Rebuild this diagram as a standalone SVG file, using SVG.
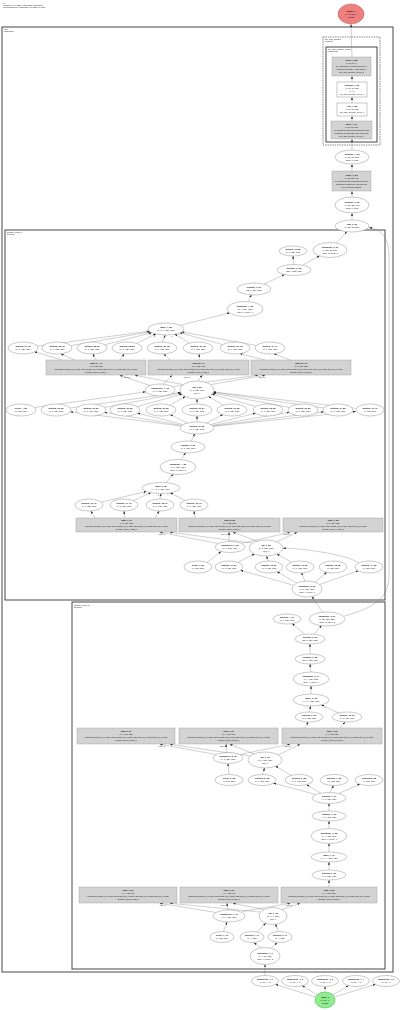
<svg xmlns="http://www.w3.org/2000/svg" width="400" height="1010" viewBox="0 0 400 1010">
<style>
text{font-family:"Liberation Sans",Arial,sans-serif;font-size:2.2px;fill:#111;text-anchor:middle}
.b{font-weight:bold}
.s{text-anchor:start;font-size:2px}
.r{font-size:2px}
.lb{font-size:1.7px;fill:#222}
.n{fill:#fff;stroke:#777;stroke-width:.4}
.gr{fill:#d3d3d3;stroke:#999;stroke-width:.4}
.wr{fill:#fff;stroke:#777;stroke-width:.4}
.cl{fill:none;stroke:#333;stroke-width:.9}
.cd{fill:none;stroke:#444;stroke-width:.6;stroke-dasharray:1.6 .8}
#edges path{stroke:#777;stroke-width:.35;fill:none;marker-end:url(#ah)}
</style>
<defs><marker id="ah" markerUnits="userSpaceOnUse" markerWidth="3" markerHeight="2" refX="2.6" refY="1" orient="auto"><path d="M0,0L3,1L0,2z" fill="#222"/></marker></defs>
<rect width="400" height="1010" fill="#fff"/>
<g id="header">
<text class="s" x="3" y="3.5">G</text>
<text class="s" x="3" y="6">Compute: 0.64 GB/s 4 MB (totals, estimated)</text>
<text class="s" x="3" y="8.3">LSTM(sequence) cumulative: 2.6 MB/s, 14 MiB</text>
</g>
<g id="clusters">
<rect class="cl" x="2" y="27" width="391" height="945"/>
<text class="s" x="4" y="30">root</text><text class="s" x="4" y="32.4">Sequential</text>
<rect class="cd" x="323" y="37" width="57" height="108"/>
<text class="s" x="325" y="40">dec_adp_decoder</text><text class="s" x="325" y="42.4">ModuleT</text>
<rect class="cl" x="326" y="47" width="51" height="95"/>
<text class="s" x="328" y="50">dec_adp_decoder_layers</text><text class="s" x="328" y="52.4">ModuleList</text>
<rect class="cl" x="5" y="230" width="380" height="370"/>
<text class="s" x="7" y="233">decoder_block_1</text><text class="s" x="7" y="235.4">Decoder</text>
<rect class="cl" x="72" y="602" width="313" height="367"/>
<text class="s" x="74" y="605.5">decoder_block_2</text><text class="s" x="74" y="607.9">Decoder</text>
</g>
<g id="edges">
<path d="M352,220L352,213.5"/><path d="M352,197L352,191.5"/><path d="M352,171L352,164.5"/><path d="M352,150L352,139.5"/>
<path d="M352,121L352,116.5"/><path d="M352,103L352,97.5"/><path d="M352,82L352,76.5"/><path d="M352,57L351,24.5"/>
<path d="M336.4,243L346.8,231.7"/><path d="M302.6,265.2L319.4,255.9"/><path d="M294,264.5L293,256.2"/>
<path d="M264.1,284.2L284.4,274.6"/><path d="M248.3,301.6L251.3,294.9"/><path d="M180.3,325.4L229.6,312.9"/>
<path d="M37.2,346.1L149.3,331.2"/><path d="M70.8,345.6L150.1,331.8"/><path d="M104.6,344.8L151.7,332.7"/><path d="M136.5,343.4L155.8,334"/>
<path d="M162.3,342L165.2,335.2"/><path d="M189.6,343L174.8,334.2"/><path d="M222.6,344.6L179.9,332.8"/><path d="M256.4,345.5L181.8,331.9"/>
<path d="M62,360L34.6,351.8"/><path d="M75,360L61,353.8"/><path d="M96,360L93,354.2"/><path d="M120,360L124,354.2"/>
<path d="M170,360L164,354.2"/><path d="M200,360L199,354.2"/><path d="M265,360L240,353.6"/><path d="M290,360L274,353.8"/>
<path d="M150,385.5L120,375.3"/><path d="M163,384.2L172,375.3"/><path d="M173,386.5L258,375.3"/>
<path d="M183,384.5L135,375.3"/><path d="M198,381L202,375.3"/><path d="M211,384.5L265,375.3"/>
<path d="M35,407.5L145.5,391.8"/>
<path d="M70.1,408L180.6,392.3"/><path d="M104.6,407.4L181,393"/><path d="M137.3,406.6L182,394.2"/><path d="M169.8,405.1L185.3,396.5"/>
<path d="M197,404L197,399.2"/><path d="M223.4,405.1L208.6,396.6"/><path d="M255.7,406.5L212,394.2"/><path d="M289.4,407.4L213,393"/>
<path d="M323.9,408L213.4,392.3"/><path d="M355.6,408.3L213.6,391.9"/>
<path d="M181,426L70.3,411.8"/><path d="M181.7,425.4L104.8,412.3"/><path d="M183.1,424.5L137.7,413.2"/><path d="M187.2,423.1L170.4,414.7"/>
<path d="M197,422L197,416.2"/><path d="M206.6,423L222.8,414.7"/><path d="M210.8,424.5L255.4,413.2"/><path d="M212.3,425.4L289.2,412.3"/>
<path d="M212.9,426L323.8,411.8"/><path d="M213.3,426.3L355.5,411.5"/>
<path d="M191,441.3L194.8,433.8"/><path d="M181,459.7L185.5,452.8"/><path d="M166,483L173,474.3"/>
<path d="M101.3,502.1L146.3,491.5"/><path d="M133.5,500.6L150.9,492.6"/><path d="M160,499L161,493.7"/><path d="M185,500.4L170.3,492.8"/>
<path d="M95,518L91,511.3"/><path d="M125,518L124,511.3"/><path d="M155,518L159,511.3"/><path d="M195,518L194,511.3"/>
<path d="M218,543.5L160,532.3"/><path d="M229,541.5L229,532.3"/><path d="M241,543.5L290,532.3"/>
<path d="M252,543L170,532.3"/><path d="M258,541.5L233,532.3"/><path d="M277,541.8L297,532.3"/>
<path d="M207,562.4L221,551.6"/><path d="M238,562.4L254.5,553.9"/><path d="M268.5,561L266.5,556.2"/><path d="M291.5,562.2L277,554.1"/>
<path d="M358,562.5C345,554 300,548 283.2,548.3"/>
<path d="M293.7,585.3L240.7,570.3"/><path d="M296.9,583.1L277.3,571.8"/><path d="M305,581.2L301.6,572.8"/><path d="M315,582.2L326.7,572.3"/><path d="M319.5,584.6L358.2,570.8"/>
<path d="M322.5,612.2L312,596.5"/>
<path d="M344.5,616C372,608 389,600 389,575L389,255C389,238 382,230 369.3,227.6"/>
<path d="M304.6,634.3L292.3,623.6"/><path d="M314.1,634.2L321.4,625.6"/><path d="M310,654L310,644.2"/><path d="M311,672L310,664.2"/>
<path d="M311,694L311,686.2"/><path d="M309.5,712L310.5,706.2"/><path d="M338.4,712.9L321.4,704.9"/>
<path d="M305,728L308,722.2"/><path d="M340,728L345,722.2"/>
<path d="M216,754.5L160,744.3"/><path d="M227,752.5L226,744.3"/><path d="M240,754.5L290,744.3"/>
<path d="M250,756L170,744.3"/><path d="M254,754L230,744.3"/><path d="M278,755L300,744.3"/>
<path d="M229,774.5L228,763.7"/><path d="M262.5,774.5L264.5,768.2"/><path d="M291.2,775.4L275.6,766.2"/>
<path d="M315.9,794.5L273.5,783.1"/><path d="M320.9,793.2L306.7,784.6"/><path d="M330,792.5L333.5,785.7"/><path d="M338.9,793.5L359.8,784.1"/>
<path d="M329,811L329,803.7"/><path d="M329,828.5L329,821.2"/><path d="M329,852L329,843.7"/><path d="M329,870L329,862.2"/><path d="M329,887L329,880.2"/>
<path d="M216,912.5L160,903.3"/><path d="M228,910L227,903.3"/><path d="M242,911.5L290,903.3"/>
<path d="M260,912L170,903.3"/><path d="M264,909.5L233,903.3"/><path d="M282,909.5L300,903.3"/>
<path d="M223.5,931.5L227,922.2"/><path d="M257,932L265.7,923.3"/><path d="M278.5,931.7L275.5,924.2"/>
<path d="M261,948L254,942.7"/><path d="M271,948.5L277,942.7"/><path d="M265,975.5L265,964.7"/>
<path d="M315.7,997.1L275.7,984.4"/><path d="M317.1,995L302.3,985.6"/><path d="M325,992L325,986.7"/><path d="M332.9,995.1L348.5,985.6"/><path d="M334.3,997.1L375.3,984.3"/>
</g>
<g id="edge-labels">
<text class="lb" x="146" y="330.6">0</text><text class="lb" x="147.6" y="333.2">1</text><text class="lb" x="150" y="335">2</text><text class="lb" x="154.5" y="336.8">3</text>
<text class="lb" x="163" y="337.6">4</text><text class="lb" x="172" y="336.8">5</text><text class="lb" x="179" y="335.4">6</text><text class="lb" x="184" y="334">7</text>
<text class="lb" x="127" y="377.6">input, hx</text><text class="lb" x="187" y="377.6">input, hx</text><text class="lb" x="262" y="377.6">input, hx</text>
<text class="lb" x="144" y="494">0</text><text class="lb" x="149.5" y="495.4">1</text><text class="lb" x="158.5" y="496">2</text><text class="lb" x="168" y="495.4">3</text>
<text class="lb" x="162" y="534.6">input, hx</text><text class="lb" x="224" y="534.6">input, hx</text><text class="lb" x="287" y="534.6">input, hx</text>
<text class="lb" x="307" y="707.6">0</text><text class="lb" x="325" y="707.6">1</text>
<text class="lb" x="162" y="746.6">input, hx</text><text class="lb" x="223" y="746.6">input, hx</text><text class="lb" x="288" y="746.6">input, hx</text>
<text class="lb" x="163" y="905.6">input, hx</text><text class="lb" x="224" y="905.6">input, hx</text><text class="lb" x="289" y="905.6">input, hx</text>
</g>
<g id="output_1"><ellipse cx="351" cy="14" rx="13" ry="10" fill="#f08080" stroke="#c05050" stroke-width=".5"/>
<text class="b" x="351" y="11.8">output_1</text><text x="351" y="14.8">(1, 12, 32, 4)</text><text x="351" y="17.8">float32</text></g>
<g id="linear_2_85"><rect class="gr" x="332" y="57" width="39" height="19"/>
<text class="b" x="351.5" y="61.3">linear_2_85</text><text class="r" x="351.5" y="64.3">(1, 32, 12, 4)</text><text class="r" x="351.5" y="67.3">ac_Parameter(4) bias:Parameter(4)</text><text class="r" x="351.5" y="70.3">parameter weight:(4, 128) bias:(4)</text><text class="r" x="351.5" y="73.3">dec_adp_decoder_layers_2</text></g>
<g id="dropout_1_56"><rect class="wr" x="337" y="82" width="30" height="15"/>
<text class="b" x="352" y="85.8">dropout_1_56</text><text class="r" x="352" y="88.8">(1, 32, 12, 128)</text><text class="r" x="352" y="91.8">p=0.1</text><text class="r" x="352" y="94.8">dec_adp_decoder_layers_1</text></g>
<g id="relu_1_55"><rect class="wr" x="337" y="103" width="30" height="13"/>
<text class="b" x="352" y="107.3">relu_1_55</text><text class="r" x="352" y="110.3">(1, 32, 12, 128)</text><text class="r" x="352" y="113.3">dec_adp_decoder_layers_1</text></g>
<g id="linear_1_54"><rect class="gr" x="331" y="121" width="41" height="18"/>
<text class="b" x="351.5" y="124.8">linear_1_54</text><text class="r" x="351.5" y="127.8">(1, 32, 12, 128)</text><text class="r" x="351.5" y="130.8">ac_Parameter(128) bias:Parameter(128)</text><text class="r" x="351.5" y="133.8">parameter weight:(128, 256) bias:(128)</text><text class="r" x="351.5" y="136.8">dec_adp_decoder_layers_0</text></g>
<g id="permute_1_53"><ellipse class="n" cx="352" cy="157" rx="17" ry="7"/>
<text class="b" x="352" y="154.8">permute_1_53</text><text x="352" y="157.8">(1, 32, 12, 256)</text><text x="352" y="160.8">dims=0,1,3,2</text></g>
<g id="linear_0_52"><rect class="gr" x="332" y="171" width="39" height="20"/>
<text class="b" x="351.5" y="175.8">linear_0_52</text><text class="r" x="351.5" y="178.8">(1, 32, 256, 12)</text><text class="r" x="351.5" y="181.8">ac_Parameter(12) bias:Parameter(12)</text><text class="r" x="351.5" y="184.8">parameter weight:(12, 12) bias:(12)</text><text class="r" x="351.5" y="187.8">dec_temporal_adapter</text></g>
<g id="permute_0_51"><ellipse class="n" cx="352" cy="205" rx="17" ry="8"/>
<text class="b" x="352" y="202.8">permute_0_51</text><text x="352" y="205.8">(1, 32, 256, 12)</text><text x="352" y="208.8">dims=0,1,3,2</text></g>
<g id="add_0_50"><ellipse class="n" cx="352" cy="226" rx="17" ry="6"/>
<text class="b" x="352" y="225.3">add_0_50</text><text x="352" y="228.3">(1, 32, 12, 256)</text></g>
<g id="transpose_2_37"><ellipse class="n" cx="330" cy="250" rx="17" ry="7.5"/>
<text class="b" x="330" y="247.8">transpose_2_37</text><text x="330" y="250.8">(1, 32, 12, 256)</text><text x="330" y="253.8">dim0=2, dim1=3</text></g>
<g id="getitem_12_80"><ellipse class="n" cx="293" cy="251" rx="14" ry="5"/>
<text class="b" x="293" y="250.3">getitem_12_80</text><text x="293" y="253.3">(1, 1, 128, 128)</text></g>
<g id="getitem_11_80"><ellipse class="n" cx="294" cy="270" rx="17" ry="5.5"/>
<text class="b" x="294" y="269.3">getitem_11_80</text><text x="294" y="272.3">(32, 1, 256, 128)</text></g>
<g id="reshape_3_84"><ellipse class="n" cx="254" cy="289" rx="17" ry="6"/>
<text class="b" x="254" y="288.3">reshape_3_84</text><text x="254" y="291.3">(32, 1, 256, 128)</text></g>
<g id="transpose_7_80"><ellipse class="n" cx="245" cy="309" rx="18" ry="7.5"/>
<text class="b" x="245" y="306.8">transpose_7_80</text><text x="245" y="309.8">(8, 4, 256, 128)</text><text x="245" y="312.8">dim0=0, dim1=1</text></g>
<g id="stack_1_80"><ellipse class="n" cx="166" cy="329" rx="18" ry="6"/>
<text class="b" x="166" y="328.3">stack_1_80</text><text x="166" y="331.3">(8, 1, 1, 128, 128)</text></g>
<g id="getitem_37_78"><ellipse class="n" cx="23" cy="348" rx="15" ry="6"/><text class="b" x="23" y="347.3">getitem_37_78</text><text x="23" y="350.3">(1, 1, 128, 128)</text></g>
<g id="getitem_38_78"><ellipse class="n" cx="57" cy="348" rx="15" ry="6"/><text class="b" x="57" y="347.3">getitem_38_78</text><text x="57" y="350.3">(1, 1, 128, 128)</text></g>
<g id="getitem_38_80"><ellipse class="n" cx="92" cy="348" rx="15" ry="6"/><text class="b" x="92" y="347.3">getitem_38_80</text><text x="92" y="350.3">(1, 1, 128, 128)</text></g>
<g id="getitem_38_82"><ellipse class="n" cx="127" cy="348" rx="15" ry="6"/><text class="b" x="127" y="347.3">getitem_38_82</text><text x="127" y="350.3">(1, 1, 128, 128)</text></g>
<g id="getitem_35_78"><ellipse class="n" cx="162" cy="348" rx="15" ry="6"/><text class="b" x="162" y="347.3">getitem_35_78</text><text x="162" y="350.3">(1, 1, 128, 128)</text></g>
<g id="getitem_36_78"><ellipse class="n" cx="198" cy="348" rx="15" ry="6"/><text class="b" x="198" y="347.3">getitem_36_78</text><text x="198" y="350.3">(1, 1, 128, 128)</text></g>
<g id="getitem_30_78"><ellipse class="n" cx="235" cy="348" rx="15" ry="6"/><text class="b" x="235" y="347.3">getitem_30_78</text><text x="235" y="350.3">(1, 1, 128, 128)</text></g>
<g id="getitem_34_77"><ellipse class="n" cx="270" cy="348" rx="15" ry="6"/><text class="b" x="270" y="347.3">getitem_34_77</text><text x="270" y="350.3">(1, 1, 128, 128)</text></g>
<g id="lstm_24_71"><rect class="gr" x="46" y="360" width="100" height="15"/>
<text class="b" x="96" y="363.8">lstm_24_71</text><text class="r" x="96" y="366.8">(1, 8, 128, 128)</text><text class="r" x="96" y="369.8">parameter weight_ih_l0:(512, 128) weight_hh_l0:(512, 128) bias_ih_l0:(512) bias_hh_l0:(512)</text><text class="r" x="96" y="372.8">decoder_block_1.lstm_0</text></g>
<g id="lstm_25_71"><rect class="gr" x="148" y="360" width="101" height="15"/>
<text class="b" x="198.5" y="363.8">lstm_25_71</text><text class="r" x="198.5" y="366.8">(1, 8, 128, 128)</text><text class="r" x="198.5" y="369.8">parameter weight_ih_l0:(512, 128) weight_hh_l0:(512, 128) bias_ih_l0:(512) bias_hh_l0:(512)</text><text class="r" x="198.5" y="372.8">decoder_block_1.lstm_1</text></g>
<g id="lstm_22_73"><rect class="gr" x="251" y="360" width="100" height="15"/>
<text class="b" x="301" y="363.8">lstm_22_73</text><text class="r" x="301" y="366.8">(1, 8, 128, 128)</text><text class="r" x="301" y="369.8">parameter weight_ih_l0:(512, 128) weight_hh_l0:(512, 128) bias_ih_l0:(512) bias_hh_l0:(512)</text><text class="r" x="301" y="372.8">decoder_block_1.lstm_2</text></g>
<g id="unsqueeze_4_78"><ellipse class="n" cx="160" cy="390" rx="15" ry="6"/><text class="b" x="160" y="389.3">unsqueeze_4_78</text><text x="160" y="392.3">(1, 1, 128, 128)</text></g>
<g id="cat_5_80"><ellipse class="n" cx="197" cy="390" rx="17" ry="9"/><text class="b" x="197" y="387.8">cat_5_80</text><text x="197" y="390.8">(8, 1, 128, 128)</text><text x="197" y="393.8">dim=0</text></g>
<g id="zeros_4_80"><ellipse class="n" cx="21" cy="410" rx="15" ry="6"/><text class="b" x="21" y="409.3">zeros_4_80</text><text x="21" y="412.3">(1, 128, 128)</text></g>
<g id="getitem_20_80"><ellipse class="n" cx="56" cy="410" rx="15" ry="6"/><text class="b" x="56" y="409.3">getitem_20_80</text><text x="56" y="412.3">(1, 1, 128, 128)</text></g>
<g id="getitem_20_81"><ellipse class="n" cx="91" cy="410" rx="15" ry="6"/><text class="b" x="91" y="409.3">getitem_20_81</text><text x="91" y="412.3">(1, 1, 128, 128)</text></g>
<g id="getitem_20_82"><ellipse class="n" cx="125" cy="410" rx="15" ry="6"/><text class="b" x="125" y="409.3">getitem_20_82</text><text x="125" y="412.3">(1, 1, 128, 128)</text></g>
<g id="getitem_20_83"><ellipse class="n" cx="161" cy="410" rx="15" ry="6"/><text class="b" x="161" y="409.3">getitem_20_83</text><text x="161" y="412.3">(1, 1, 128, 128)</text></g>
<g id="getitem_20_84"><ellipse class="n" cx="197" cy="410" rx="15" ry="6"/><text class="b" x="197" y="409.3">getitem_20_84</text><text x="197" y="412.3">(1, 1, 128, 128)</text></g>
<g id="getitem_21_80"><ellipse class="n" cx="232" cy="410" rx="15" ry="6"/><text class="b" x="232" y="409.3">getitem_21_80</text><text x="232" y="412.3">(1, 1, 128, 128)</text></g>
<g id="getitem_22_80"><ellipse class="n" cx="268" cy="410" rx="15" ry="6"/><text class="b" x="268" y="409.3">getitem_22_80</text><text x="268" y="412.3">(1, 1, 128, 128)</text></g>
<g id="getitem_23_80"><ellipse class="n" cx="303" cy="410" rx="15" ry="6"/><text class="b" x="303" y="409.3">getitem_23_80</text><text x="303" y="412.3">(1, 1, 128, 128)</text></g>
<g id="getitem_24_80"><ellipse class="n" cx="338" cy="410" rx="15" ry="6"/><text class="b" x="338" y="409.3">getitem_24_80</text><text x="338" y="412.3">(1, 1, 128, 128)</text></g>
<g id="getitem_19_79"><ellipse class="n" cx="370" cy="410" rx="14" ry="6"/><text class="b" x="370" y="409.3">getitem_19_79</text><text x="370" y="412.3">(1, 128, 128)</text></g>
<g id="getitem_31_80"><ellipse class="n" cx="197" cy="428" rx="17" ry="6"/><text class="b" x="197" y="427.3">getitem_31_80</text><text x="197" y="430.3">(8, 1, 128, 128)</text></g>
<g id="reshape_3_80"><ellipse class="n" cx="188" cy="447" rx="17" ry="6"/><text class="b" x="188" y="446.3">reshape_3_80</text><text x="188" y="449.3">(8, 1, 128, 128)</text></g>
<g id="transpose_4_80"><ellipse class="n" cx="178" cy="467" rx="18" ry="7.5"/><text class="b" x="178" y="464.8">transpose_4_80</text><text x="178" y="467.8">(8, 1, 256, 128)</text><text x="178" y="470.8">dim0=1, dim1=2</text></g>
<g id="stack_2_80"><ellipse class="n" cx="161" cy="488" rx="19" ry="5.5"/><text class="b" x="161" y="487.3">stack_2_80</text><text x="161" y="490.3">(4, 8, 1, 128, 128)</text></g>
<g id="getitem_16_79"><ellipse class="n" cx="89" cy="505" rx="14" ry="6"/><text class="b" x="89" y="504.3">getitem_16_79</text><text x="89" y="507.3">(1, 1, 128, 128)</text></g>
<g id="getitem_17_79"><ellipse class="n" cx="124" cy="505" rx="14" ry="6"/><text class="b" x="124" y="504.3">getitem_17_79</text><text x="124" y="507.3">(1, 1, 128, 128)</text></g>
<g id="getitem_18_79"><ellipse class="n" cx="160" cy="505" rx="14" ry="6"/><text class="b" x="160" y="504.3">getitem_18_79</text><text x="160" y="507.3">(1, 1, 128, 128)</text></g>
<g id="getitem_15_79"><ellipse class="n" cx="194" cy="505" rx="14" ry="6"/><text class="b" x="194" y="504.3">getitem_15_79</text><text x="194" y="507.3">(1, 1, 128, 128)</text></g>
<g id="lstm_7_37"><rect class="gr" x="76" y="518" width="101" height="14"/>
<text class="b" x="126.5" y="521.3">lstm_7_37</text><text class="r" x="126.5" y="524.3">(1, 8, 128, 128)</text><text class="r" x="126.5" y="527.3">parameter weight_ih_l0:(512, 128) weight_hh_l0:(512, 128) bias_ih_l0:(512) bias_hh_l0:(512)</text><text class="r" x="126.5" y="530.3">decoder_block_1.lstm_0</text></g>
<g id="lstm_8_38"><rect class="gr" x="179" y="518" width="101" height="14"/>
<text class="b" x="229.5" y="521.3">lstm_8_38</text><text class="r" x="229.5" y="524.3">(1, 8, 128, 128)</text><text class="r" x="229.5" y="527.3">parameter weight_ih_l0:(512, 128) weight_hh_l0:(512, 128) bias_ih_l0:(512) bias_hh_l0:(512)</text><text class="r" x="229.5" y="530.3">decoder_block_1.lstm_1</text></g>
<g id="lstm_9_38"><rect class="gr" x="283" y="518" width="100" height="14"/>
<text class="b" x="333" y="521.3">lstm_9_38</text><text class="r" x="333" y="524.3">(1, 8, 128, 128)</text><text class="r" x="333" y="527.3">parameter weight_ih_l0:(512, 128) weight_hh_l0:(512, 128) bias_ih_l0:(512)</text><text class="r" x="333" y="530.3">decoder_block_1.lstm_2</text></g>
<g id="unsqueeze_1_80"><ellipse class="n" cx="230" cy="547" rx="15" ry="5.5"/><text class="b" x="230" y="546.3">unsqueeze_1_80</text><text x="230" y="549.3">(1, 1, 128, 128)</text></g>
<g id="cat_1_80"><ellipse class="n" cx="266" cy="548" rx="17" ry="8"/><text class="b" x="266" y="545.8">cat_1_80</text><text x="266" y="548.8">(2, 1, 128, 128)</text><text x="266" y="551.8">dim=0</text></g>
<g id="zeros_1_80"><ellipse class="n" cx="198" cy="567" rx="14" ry="6"/><text class="b" x="198" y="566.3">zeros_1_80</text><text x="198" y="569.3">(1, 128, 128)</text></g>
<g id="getitem_17_81"><ellipse class="n" cx="229" cy="567" rx="14" ry="6"/><text class="b" x="229" y="566.3">getitem_17_81</text><text x="229" y="569.3">(1, 1, 128, 128)</text></g>
<g id="getitem_15_81"><ellipse class="n" cx="269" cy="567" rx="14" ry="6"/><text class="b" x="269" y="566.3">getitem_15_81</text><text x="269" y="569.3">(1, 1, 128, 128)</text></g>
<g id="getitem_16_81"><ellipse class="n" cx="300" cy="567" rx="14" ry="6"/><text class="b" x="300" y="566.3">getitem_16_81</text><text x="300" y="569.3">(1, 1, 128, 128)</text></g>
<g id="getitem_18_80"><ellipse class="n" cx="333" cy="567" rx="14" ry="6"/><text class="b" x="333" y="566.3">getitem_18_80</text><text x="333" y="569.3">(1, 128, 128)</text></g>
<g id="getitem_14_80"><ellipse class="n" cx="369" cy="567" rx="14" ry="6"/><text class="b" x="369" y="566.3">getitem_14_80</text><text x="369" y="569.3">(1, 128, 128)</text></g>
<g id="transpose_5_80"><ellipse class="n" cx="307" cy="589" rx="15" ry="8"/><text class="b" x="307" y="586.8">transpose_5_80</text><text x="307" y="589.8">(8, 1, 128, 128)</text><text x="307" y="592.8">dim0=0, dim1=1</text></g>
<g id="transpose_3_37"><ellipse class="n" cx="327" cy="619" rx="18" ry="7"/><text class="b" x="327" y="616.8">transpose_3_37</text><text x="327" y="619.8">(1, 32, 128, 128)</text><text x="327" y="622.8">dim0=2, dim1=3</text></g>
<g id="getitem_4_37"><ellipse class="n" cx="287" cy="619" rx="14" ry="5"/><text class="b" x="287" y="618.3">getitem_4_37</text><text x="287" y="621.3">(1, 1, 128, 128)</text></g>
<g id="getitem_3_36"><ellipse class="n" cx="310" cy="639" rx="15" ry="5"/><text class="b" x="310" y="638.3">getitem_3_36</text><text x="310" y="641.3">(32, 1, 128, 128)</text></g>
<g id="reshape_2_35"><ellipse class="n" cx="310" cy="659" rx="15" ry="5"/><text class="b" x="310" y="658.3">reshape_2_35</text><text x="310" y="661.3">(32, 1, 128, 128)</text></g>
<g id="transpose_2_34"><ellipse class="n" cx="311" cy="679" rx="18" ry="7"/><text class="b" x="311" y="676.8">transpose_2_34</text><text x="311" y="679.8">(8, 4, 128, 128)</text><text x="311" y="682.8">dim0=0, dim1=1</text></g>
<g id="stack_2_33"><ellipse class="n" cx="311" cy="700" rx="18" ry="6"/><text class="b" x="311" y="699.3">stack_2_33</text><text x="311" y="702.3">(4, 8, 1, 128, 128)</text></g>
<g id="getitem_9_32"><ellipse class="n" cx="309" cy="717" rx="14" ry="5"/><text class="b" x="309" y="716.3">getitem_9_32</text><text x="309" y="719.3">(1, 1, 128, 128)</text></g>
<g id="getitem_10_32"><ellipse class="n" cx="347" cy="717" rx="15" ry="5"/><text class="b" x="347" y="716.3">getitem_10_32</text><text x="347" y="719.3">(1, 1, 128, 128)</text></g>
<g id="lstm_5_30"><rect class="gr" x="77" y="728" width="98" height="16"/>
<text class="b" x="126" y="732.3">lstm_5_30</text><text class="r" x="126" y="735.3">(1, 1, 128, 128)</text><text class="r" x="126" y="738.3">parameter weight_ih_l0:(512, 128) weight_hh_l0:(512, 128) bias_ih_l0:(512) bias_hh_l0:(512)</text><text class="r" x="126" y="741.3">decoder_block_2.lstm_0</text></g>
<g id="lstm_6_31"><rect class="gr" x="179" y="728" width="99" height="16"/>
<text class="b" x="228.5" y="732.3">lstm_6_31</text><text class="r" x="228.5" y="735.3">(1, 1, 128, 128)</text><text class="r" x="228.5" y="738.3">parameter weight_ih_l0:(512, 128) weight_hh_l0:(512, 128) bias_ih_l0:(512) bias_hh_l0:(512)</text><text class="r" x="228.5" y="741.3">decoder_block_2.lstm_1</text></g>
<g id="lstm_7_32"><rect class="gr" x="282" y="728" width="100" height="16"/>
<text class="b" x="332" y="732.3">lstm_7_32</text><text class="r" x="332" y="735.3">(1, 1, 128, 128)</text><text class="r" x="332" y="738.3">parameter weight_ih_l0:(512, 128) weight_hh_l0:(512, 128) bias_ih_l0:(512) bias_hh_l0:(512)</text><text class="r" x="332" y="741.3">decoder_block_2.lstm_2</text></g>
<g id="unsqueeze_2_29"><ellipse class="n" cx="228" cy="758" rx="15" ry="5.5"/><text class="b" x="228" y="757.3">unsqueeze_2_29</text><text x="228" y="760.3">(1, 1, 128, 128)</text></g>
<g id="cat_2_29"><ellipse class="n" cx="265" cy="760" rx="17" ry="8"/><text class="b" x="265" y="757.8">cat_2_29</text><text x="265" y="760.8">(2, 1, 128, 128)</text><text x="265" y="763.8">dim=0</text></g>
<g id="zeros_2_28"><ellipse class="n" cx="229" cy="780" rx="14" ry="5.5"/><text class="b" x="229" y="779.3">zeros_2_28</text><text x="229" y="782.3">(1, 128, 128)</text></g>
<g id="getitem_5_28"><ellipse class="n" cx="262" cy="780" rx="14" ry="5.5"/><text class="b" x="262" y="779.3">getitem_5_28</text><text x="262" y="782.3">(1, 1, 128, 128)</text></g>
<g id="getitem_6_28"><ellipse class="n" cx="299" cy="780" rx="14" ry="5.5"/><text class="b" x="299" y="779.3">getitem_6_28</text><text x="299" y="782.3">(1, 1, 128, 128)</text></g>
<g id="getitem_7_28"><ellipse class="n" cx="334" cy="780" rx="14" ry="5.5"/><text class="b" x="334" y="779.3">getitem_7_28</text><text x="334" y="782.3">(1, 128, 128)</text></g>
<g id="getitem_8_28"><ellipse class="n" cx="369" cy="780" rx="14" ry="5.5"/><text class="b" x="369" y="779.3">getitem_8_28</text><text x="369" y="782.3">(1, 128, 128)</text></g>
<g id="getitem_1_27"><ellipse class="n" cx="329" cy="798" rx="17" ry="5.5"/><text class="b" x="329" y="797.3">getitem_1_27</text><text x="329" y="800.3">(4, 1, 128, 128)</text></g>
<g id="reshape_1_26"><ellipse class="n" cx="329" cy="816" rx="17" ry="5"/><text class="b" x="329" y="815.3">reshape_1_26</text><text x="329" y="818.3">(4, 1, 128, 128)</text></g>
<g id="transpose_1_25"><ellipse class="n" cx="329" cy="836" rx="18" ry="7.5"/><text class="b" x="329" y="833.8">transpose_1_25</text><text x="329" y="836.8">(1, 4, 128, 128)</text><text x="329" y="839.8">dim0=0, dim1=1</text></g>
<g id="stack_1_24"><ellipse class="n" cx="329" cy="857" rx="18" ry="5"/><text class="b" x="329" y="856.3">stack_1_24</text><text x="329" y="859.3">(1, 1, 4, 128, 128)</text></g>
<g id="getitem_0_23"><ellipse class="n" cx="329" cy="875" rx="17" ry="5"/><text class="b" x="329" y="874.3">getitem_0_23</text><text x="329" y="877.3">(1, 1, 128, 128)</text></g>
<g id="lstm_1_20"><rect class="gr" x="79" y="887" width="98" height="16"/>
<text class="b" x="128" y="891.3">lstm_1_20</text><text class="r" x="128" y="894.3">(1, 4, 128, 12)</text><text class="r" x="128" y="897.3">parameter weight_ih_l0:(512, 12) weight_hh_l0:(512, 128) bias_ih_l0:(512) bias_hh_l0:(512)</text><text class="r" x="128" y="900.3">decoder_block_2.lstm_0</text></g>
<g id="lstm_2_21"><rect class="gr" x="180" y="887" width="98" height="16"/>
<text class="b" x="229" y="891.3">lstm_2_21</text><text class="r" x="229" y="894.3">(1, 4, 128, 12)</text><text class="r" x="229" y="897.3">parameter weight_ih_l0:(512, 12) weight_hh_l0:(512, 128) bias_ih_l0:(512) bias_hh_l0:(512)</text><text class="r" x="229" y="900.3">decoder_block_2.lstm_1</text></g>
<g id="lstm_3_22"><rect class="gr" x="281" y="887" width="96" height="16"/>
<text class="b" x="329" y="891.3">lstm_3_22</text><text class="r" x="329" y="894.3">(1, 4, 128, 128)</text><text class="r" x="329" y="897.3">parameter weight_ih_l0:(512, 12) weight_hh_l0:(512, 128) bias_ih_l0:(512) bias_hh_l0:(512)</text><text class="r" x="329" y="900.3">decoder_block_2.lstm_2</text></g>
<g id="unsqueeze_1_19"><ellipse class="n" cx="229" cy="916" rx="16" ry="6"/><text class="b" x="229" y="915.3">unsqueeze_1_19</text><text x="229" y="918.3">(1, 1, 128, 128)</text></g>
<g id="cat_1_18"><ellipse class="n" cx="273" cy="916" rx="14" ry="8.5"/><text class="b" x="273" y="913.8">cat_1_18</text><text x="273" y="916.8">(2, 1, 4, 128)</text><text x="273" y="919.8">dim=0</text></g>
<g id="zeros_1_16"><ellipse class="n" cx="222" cy="937" rx="12" ry="5.5"/><text class="b" x="222" y="936.3">zeros_1_16</text><text x="222" y="939.3">(1, 128, 128)</text></g>
<g id="getitem_1_17"><ellipse class="n" cx="252" cy="937" rx="12" ry="5.5"/><text class="b" x="252" y="936.3">getitem_1_17</text><text x="252" y="939.3">(1, 4, 128)</text></g>
<g id="getitem_2_17"><ellipse class="n" cx="280" cy="937" rx="12" ry="5.5"/><text class="b" x="280" y="936.3">getitem_2_17</text><text x="280" y="939.3">(1, 4, 128)</text></g>
<g id="transpose_1_0"><ellipse class="n" cx="265" cy="956" rx="15" ry="8.5"/><text class="b" x="265" y="953.8">transpose_1_0</text><text x="265" y="956.8">(1, 4, 12, 128)</text><text x="265" y="959.8">dim0=1, dim1=2</text></g>
<g id="unsqueeze_1_1"><ellipse class="n" cx="265" cy="981" rx="13.5" ry="5.5"/><text class="b" x="265" y="980.3">unsqueeze_1_1</text><text x="265" y="983.3">(1, 12, 4, 1)</text></g>
<g id="unsqueeze_1_2"><ellipse class="n" cx="295" cy="981" rx="13.5" ry="5.5"/><text class="b" x="295" y="980.3">unsqueeze_1_2</text><text x="295" y="983.3">(1, 12, 4, 1)</text></g>
<g id="unsqueeze_1_3"><ellipse class="n" cx="325" cy="981" rx="13.5" ry="5.5"/><text class="b" x="325" y="980.3">unsqueeze_1_3</text><text x="325" y="983.3">(1, 12, 4, 1)</text></g>
<g id="unsqueeze_1_4"><ellipse class="n" cx="356" cy="981" rx="13.5" ry="5.5"/><text class="b" x="356" y="980.3">unsqueeze_1_4</text><text x="356" y="983.3">(1, 12, 4, 1)</text></g>
<g id="unsqueeze_1_5"><ellipse class="n" cx="386" cy="981" rx="13.5" ry="5.5"/><text class="b" x="386" y="980.3">unsqueeze_1_5</text><text x="386" y="983.3">(1, 12, 4)</text></g>
<g id="input_1"><ellipse cx="325" cy="1000" rx="10" ry="8" fill="#90ee90" stroke="#4a4" stroke-width=".5"/>
<text class="b" x="325" y="997.8">input_1</text><text x="325" y="1000.8">(1, 12, 4)</text><text x="325" y="1003.8">float32</text></g>
</svg>
